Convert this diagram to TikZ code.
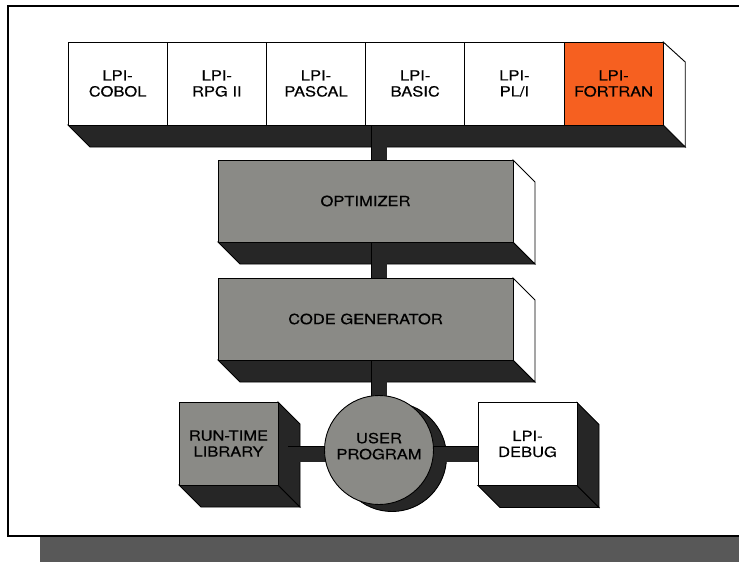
\documentclass[tikz,border=0pt]{standalone}
\usepackage{fontspec}
\setmainfont{TeX Gyre Heros}[FakeStretch=1.18,FakeBold=0.5]
\usetikzlibrary{backgrounds,calc}

\definecolor{facegray}{RGB}{138,138,134}
\definecolor{shade}{RGB}{38,38,38}
\definecolor{fortran}{RGB}{246,96,32}
\definecolor{band}{RGB}{88,88,88}

\tikzset{
  face/.style={draw,line width=0.9pt,inner sep=0pt,outer sep=0pt,align=center,
    font=\fontsize{14}{16}\selectfont},
  langbox/.style={face,minimum width=99.2pt,minimum height=83pt},
  stage/.style={face,fill=facegray,minimum width=295pt,minimum height=82pt},
  cube/.style={face,minimum width=99pt,minimum height=83pt},
  depth/.style={draw=black,line width=0.9pt},
  bar/.style={line width=0.9pt,double=shade,double distance=15pt},
}

\begin{document}
\begin{tikzpicture}[x=1pt,y=-1pt]
\useasboundingbox (0,0) rectangle (739,562);
% frame and the band under it
\draw[line width=1.8pt] (739,6) -- (8,6) -- (8,536) -- (739,536);
\fill[band] (40,537) rectangle (739,562);

% front ends
\foreach \lang/\col [count=\i] in {COBOL/white,RPG II/white,PASCAL/white,BASIC/white,{PL/I}/white,FORTRAN/fortran}
  \node[langbox,fill=\col] (l\i) at ({68+99.2*(\i-0.5)},83.5) {LPI-\\\lang};

% common stages
\node[stage] (opt) at (365.5,201) {OPTIMIZER};
\node[stage] (cg) at (365.5,319) {CODE GENERATOR};

% run time
\node[cube,fill=facegray] (lib) at (228.5,443.5) {RUN-TIME\\LIBRARY};
\node[face,circle,fill=facegray,minimum size=109pt] (user) at (379,450) {USER\\PROGRAM\\[-8pt]};
\node[cube,fill=white] (dbg) at (527.5,444) {LPI-\\DEBUG};

\begin{scope}[on background layer]
  % depth faces
  \draw[depth,fill=shade] (l1.south west) -- (l6.south east) -- ++(22,22)
    -- ([shift={(22,22)}]l1.south west) -- cycle;
  \draw[depth,fill=white] (l6.north east) -- ++(22,20)
    -- ([shift={(22,22)}]l6.south east) -- (l6.south east) -- cycle;
  \foreach \n/\sidecol in {opt/white,cg/white,lib/shade,dbg/shade}{
    \draw[depth,fill=shade] (\n.south west) -- ++(22,22)
      -- ([shift={(22,22)}]\n.south east) -- (\n.south east) -- cycle;
    \draw[depth,fill=\sidecol] (\n.north east) -- ++(22,22)
      -- ([shift={(22,22)}]\n.south east) -- (\n.south east) -- cycle;
  }
  \draw[depth,fill=shade] ([shift={(13,7)}]user.center) circle (54.5pt);
  % links
  \coordinate (hub) at ([yshift=-4pt]user.center);
  \draw[bar] (user |- l4.south) -- (user |- opt.north);
  \draw[bar] (user |- opt.south) -- (user |- cg.north);
  \draw[bar] (user |- cg.south) -- (user.north);
  \draw[bar] ($(hub -| lib.east)+(10,0)$) -- (hub);
  \draw[bar] (hub -| user.east) -- (hub -| dbg.west);
\end{scope}
\end{tikzpicture}
\end{document}
